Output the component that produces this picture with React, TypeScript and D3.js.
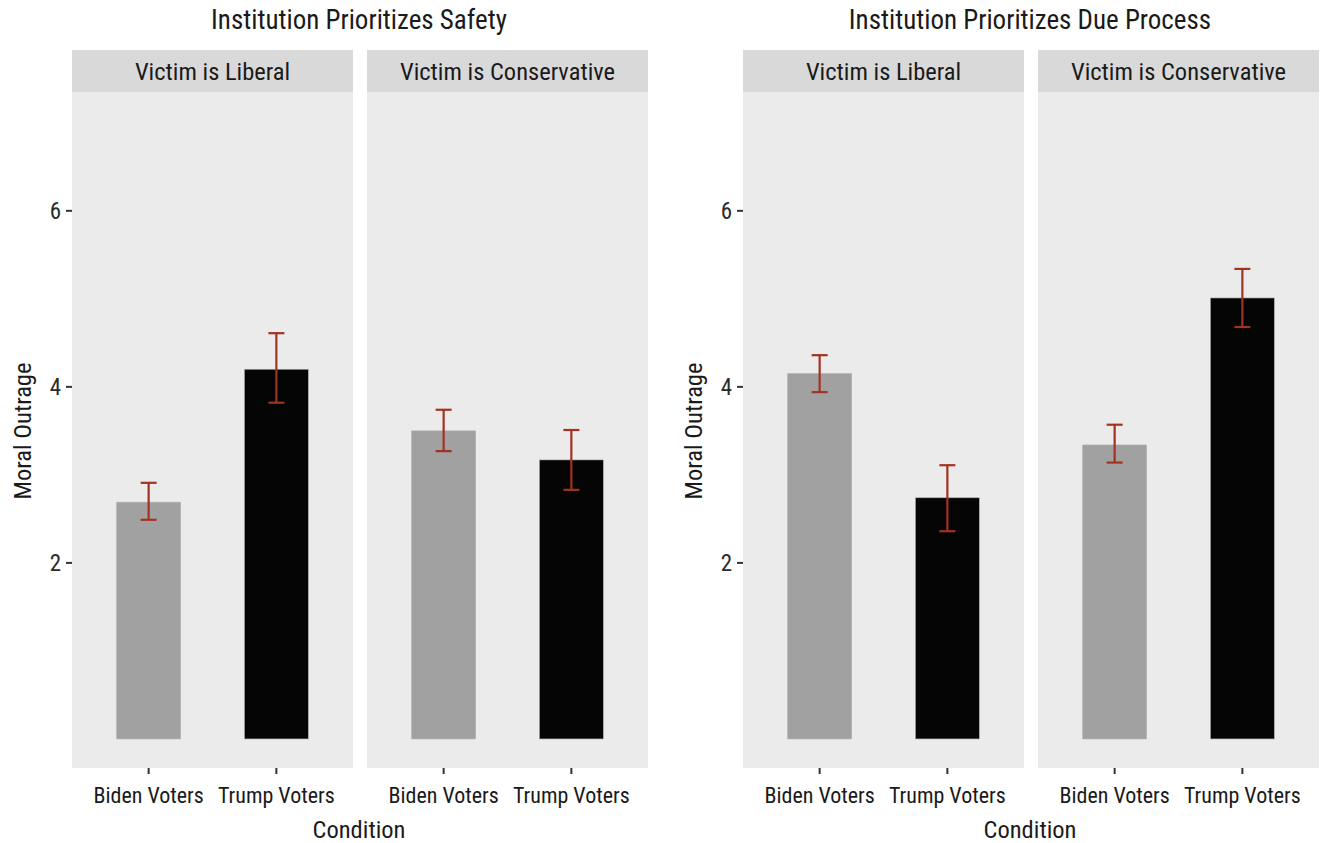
import React from "react";
import * as d3 from "d3";

const panelTitles = ["Institution Prioritizes Safety", "Institution Prioritizes Due Process"];
const facetLabels = ["Victim is Liberal", "Victim is Conservative"];
const conditions = ["Biden Voters", "Trump Voters"];
const yTicks = [2, 4, 6];

// [panel][facet][condition]
const means = [
  [[2.69, 4.2], [3.5, 3.17]],
  [[4.15, 2.74], [3.34, 5.01]],
];
const lowers = [
  [[2.49, 3.82], [3.27, 2.83]],
  [[3.94, 2.36], [3.14, 4.68]],
];
const uppers = [
  [[2.91, 4.61], [3.74, 3.51]],
  [[4.36, 3.11], [3.57, 5.34]],
];
const barColors = ["#a1a1a1", "#050505"];

const W = 1321;
const H = 843;
const FONT = "'Liberation Sans Narrow', 'Roboto Condensed', 'Arial Narrow', 'Liberation Sans', sans-serif";

export default function App() {
  const panelX0 = [72, 743];
  const facetW = 281;
  const facetGap = 14;
  const stripTop = 50;
  const panelTop = 92;
  const panelBottom = 768;

  const y = d3.scaleLinear().domain([-0.33, 7.35]).range([panelBottom, panelTop]);
  const barWidth = 0.5;
  const errW = 0.125;

  return (
    <svg width={W} height={H} style={{ position: "absolute", left: 0, top: 0, background: "#fff" }} fontFamily={FONT}>
      {panelTitles.map((title, p) => {
        const x0 = panelX0[p];
        const totalW = facetW * 2 + facetGap;
        return (
          <g key={p}>
            <text x={x0 + totalW / 2 - 1} y={29} textAnchor="middle" fontSize={27} fill="#1a1a1a">{title}</text>
            <text
              transform={`translate(${x0 - 41},${431}) rotate(-90)`}
              textAnchor="middle"
              fontSize={24.5}
              fill="#1a1a1a"
            >Moral Outrage</text>
            {yTicks.map((t) => (
              <g key={t}>
                <line x1={x0 - 6} x2={x0} y1={y(t)} y2={y(t)} stroke="#333" strokeWidth={2} />
                <text x={x0 - 11} y={y(t)} dy="0.36em" textAnchor="end" fontSize={23} fill="#2a2a2a">{t}</text>
              </g>
            ))}
            <text x={x0 + totalW / 2 - 1} y={838} textAnchor="middle" fontSize={24.5} fill="#1a1a1a">Condition</text>
            {facetLabels.map((fl, f) => {
              const fx = x0 + f * (facetW + facetGap);
              const xs = d3.scaleLinear().domain([0.4, 2.6]).range([fx, fx + facetW]);
              return (
                <g key={f}>
                  <rect x={fx} y={stripTop} width={facetW} height={panelTop - stripTop} fill="#d9d9d9" />
                  <text x={fx + facetW / 2} y={(stripTop + panelTop) / 2} dy="0.36em" textAnchor="middle" fontSize={24.5} fill="#1a1a1a">{fl}</text>
                  <rect x={fx} y={panelTop} width={facetW} height={panelBottom - panelTop} fill="#ebebeb" />
                  {conditions.map((c, ci) => {
                    const pos = ci + 1;
                    const bx = xs(pos - barWidth / 2);
                    const bw = xs(pos + barWidth / 2) - bx;
                    const cx = xs(pos);
                    const m = means[p][f][ci];
                    const lo = lowers[p][f][ci];
                    const hi = uppers[p][f][ci];
                    const capL = xs(pos - errW / 2);
                    const capR = xs(pos + errW / 2);
                    return (
                      <g key={c}>
                        <rect x={bx} y={y(m)} width={bw} height={y(0) - y(m)} fill={barColors[ci]} stroke="#b5aaa5" strokeWidth={0.6} />
                        <g stroke="#a33222" strokeWidth={2.2}>
                          <line x1={cx} x2={cx} y1={y(hi)} y2={y(lo)} />
                          <line x1={capL} x2={capR} y1={y(hi)} y2={y(hi)} />
                          <line x1={capL} x2={capR} y1={y(lo)} y2={y(lo)} />
                        </g>
                        <line x1={cx} x2={cx} y1={panelBottom} y2={panelBottom + 6} stroke="#333" strokeWidth={2} />
                        <text x={cx} y={803} textAnchor="middle" fontSize={22} fill="#1a1a1a">{c}</text>
                      </g>
                    );
                  })}
                </g>
              );
            })}
          </g>
        );
      })}
    </svg>
  );
}
